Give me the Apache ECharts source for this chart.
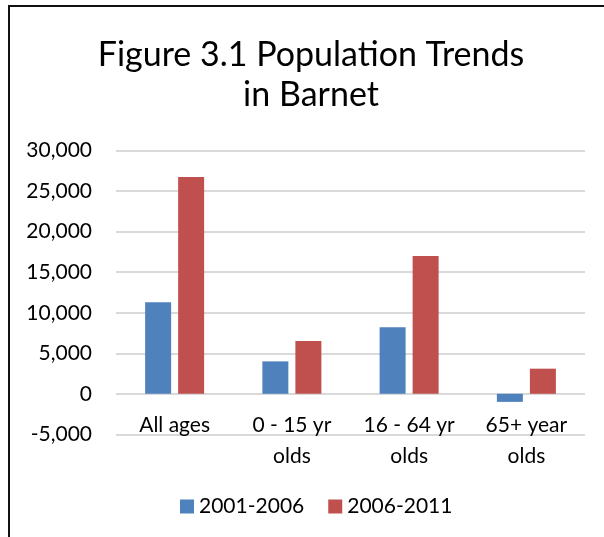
<!DOCTYPE html>
<html>
<head>
<meta charset="utf-8">
<script src="https://cdn.jsdelivr.net/npm/echarts@6/dist/echarts.min.js"></script>
<style>
  html, body { margin: 0; padding: 0; background: #fff; }
  #chart { width: 604px; height: 537px; }
</style>
</head>
<body>
<div id="chart"></div>
<script>
// Population change in Barnet by age band, for two census-based periods
const categories = ['All ages', '0 - 15 yr\nolds', '16 - 64 yr\nolds', '65+ year\nolds'];
const seriesNames = ['2001-2006', '2006-2011'];
const change2001to2006 = [11300, 4000, 8200, -1000];
const change2006to2011 = [26750, 6500, 17000, 3100];
const yTicks = { min: -5000, max: 30000, step: 5000 };

const FONT = 'Lato';
const chart = echarts.init(document.getElementById('chart'), null, { renderer: 'canvas' });

chart.setOption({
  animation: false,
  backgroundColor: '#ffffff',
  textStyle: { fontFamily: FONT, color: '#000' },
  title: {
    // zero-width non-joiner keeps "ti" from forming a ligature
    text: 'Figure 3.1 Popula\u200Ction Trends\nin Barnet',
    left: 306,
    top: 30,
    textAlign: 'center',
    textStyle: { fontFamily: FONT, fontSize: 34, fontWeight: 'normal', lineHeight: 40, color: '#000' }
  },
  legend: {
    data: seriesNames,
    left: 175,
    top: 491,
    itemWidth: 14,
    itemHeight: 14,
    itemGap: 24,
    icon: 'rect',
    textStyle: { fontFamily: FONT, fontSize: 21, color: '#000' }
  },
  grid: { left: 116, right: 19, top: 150.7, bottom: 102.7, containLabel: false },
  xAxis: {
    type: 'category',
    data: categories,
    axisLine: { onZero: false, show: false },
    axisTick: { show: false },
    axisLabel: {
      interval: 0,
      margin: -25,
      fontFamily: FONT,
      fontSize: 21,
      lineHeight: 31,
      color: '#000'
    }
  },
  yAxis: {
    type: 'value',
    min: yTicks.min,
    max: yTicks.max,
    interval: yTicks.step,
    axisLine: { show: false },
    axisTick: { show: false },
    splitLine: { lineStyle: { color: '#d9d9d9', width: 2 } },
    axisLabel: {
      margin: 24,
      fontFamily: FONT,
      fontSize: 21,
      color: '#000',
      formatter: v => v.toLocaleString('en-US')
    }
  },
  series: [
    {
      name: seriesNames[0],
      type: 'bar',
      data: change2001to2006,
      barWidth: 26,
      barGap: '27%',
      itemStyle: { color: '#4F81BD' }
    },
    {
      name: seriesNames[1],
      type: 'bar',
      data: change2006to2011,
      barWidth: 26,
      barGap: '27%',
      itemStyle: { color: '#C0504D' }
    }
  ],
  graphic: [
    {
      type: 'polyline',
      silent: true,
      shape: { points: [[9, 537], [9, 6], [604, 6]] },
      style: { stroke: '#111', lineWidth: 2, fill: null }
    }
  ]
});
</script>
</body>
</html>
